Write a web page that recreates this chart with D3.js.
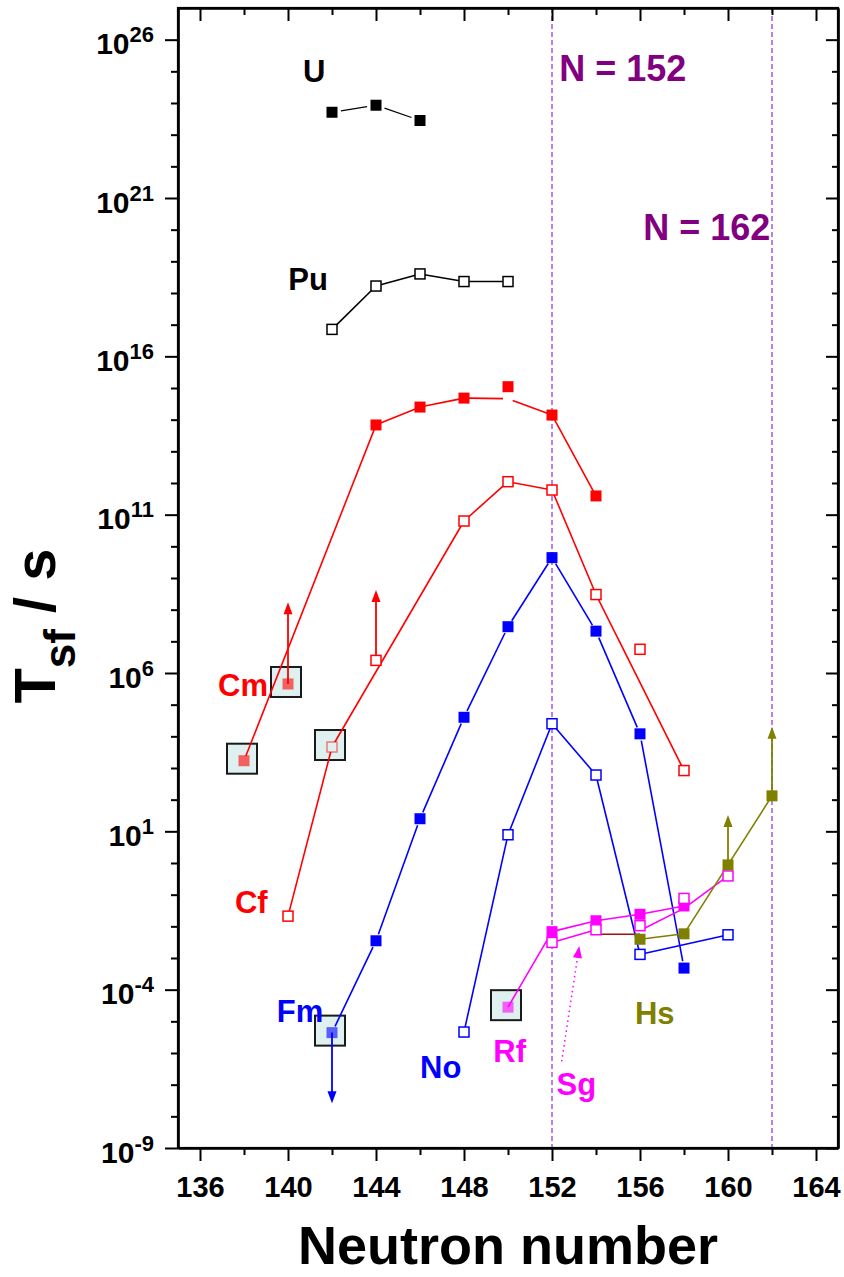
<!DOCTYPE html>
<html><head><meta charset="utf-8">
<script src="https://cdn.jsdelivr.net/npm/d3@7"></script>
<style>
body{margin:0;background:#fff}
svg{display:block}
text{font-family:"Liberation Sans",Arial,Helvetica,sans-serif;font-weight:bold}
</style>
</head><body>
<svg id="chart" width="844" height="1277"></svg>
<script>
// ---------------- data ----------------
const xMajorTicks = [136,140,144,148,152,156,160,164];
const xMinorTicks = [138,142,146,150,154,158,162];
const yMajorExps = [-9,-4,1,6,11,16,21,26];
const shellLines = [152,162];
const shellLabels = ["N = 152","N = 162"];
const shellLabelN = [152.33,156.15];
const shellLabelT = [4.9e24,4.7e19];

// U (filled black)
const U_N = [142,144,146];
const U_T = [5.1e23,8.5e23,2.8e23];
// Pu (open black)
const Pu_N = [142,144,146,148,150];
const Pu_T = [7.1e16,1.66e18,4.0e18,2.3e18,2.3e18];
// Cm (filled red)
const Cm_N = [138,140,144,146,148,150,152,154];
const Cm_T = [1.7e3,4.5e5,6.8e13,2.5e14,4.8e14,1.1e15,1.4e14,3.9e11];
const Cm_lineN = [138,144,146,148,150,152,154];
const Cm_lineT = [1.7e3,6.8e13,2.5e14,4.8e14,4.6e14,1.4e14,3.9e11];
// Cf (open red)
const Cf_N = [140,142,144,148,150,152,154,156,158];
const Cf_T = [2.1e-2,4.6e3,2.5e6,6.3e10,1.1e12,6.0e11,3.0e8,5.6e6,8.3e2];
const Cf_lineN = [140,142,148,150,152,154,158];
const Cf_lineT = [2.1e-2,4.6e3,6.3e10,1.1e12,6.0e11,3.0e8,8.3e2];
// Fm (filled blue)
const Fm_N = [142,144,146,148,150,152,154,156,158];
const Fm_T = [4.4e-6,3.5e-3,25,4.0e4,2.9e7,4.4e9,2.1e7,1.2e4,4.8e-4];
// No (open blue)
const No_N = [148,150,152,154,156,160];
const No_T = [4.6e-6,7.8,2.5e4,600,1.3e-3,5.4e-3];
// Rf (filled magenta)
const Rf_N = [150,152,154,156,158];
const Rf_T = [2.8e-5,6.8e-3,1.5e-2,2.4e-2,4.4e-2];
// Sg (open magenta)
const Sg_N = [152,154,156,158,160];
const Sg_T = [3.1e-3,7.8e-3,1.05e-2,7.6e-2,0.39];
const Sg_lineN = [152,154,155,156,158,160];
const Sg_lineT = [3.1e-3,7.8e-3,null,7.4e-3,3.7e-2,0.39];
// Hs (filled olive)
const Hs_N = [156,158,160,162];
const Hs_T = [3.9e-3,5.8e-3,0.87,132];
// short dark-red segment
const seg_N = [154,156];
const seg_T = [5.6e-3,5.6e-3];

// boxed (estimated) points: series, N
const boxedSeries = ["Cm","Cm","Cf","Fm","Rf"];
const boxedN = [138,140,142,142,150];

// limit arrows: series, N, tip value
const arrowSeries = ["Cm","Cf","Fm","Hs","Hs"];
const arrowN = [140,144,142,160,162];
const arrowTip = [1.7e8,4.2e8,2.6e-8,33,2.0e4];

// Sg dotted pointer
const sgPointerN = [152.44,153.24];
const sgPointerT = [5.4e-7,2.4e-3];

// element labels
const labelText = ["U","Pu","Cm","Cf","Fm","No","Rf","Sg","Hs"];
const labelN = [140.68,140.01,136.82,137.59,139.49,146.0,149.33,152.21,155.77];
const labelT = [4.6e24,1.26e18,1.9e5,2.7e-2,9.5e-6,1.6e-7,5.2e-7,4.8e-8,8.3e-6];
const labelColor = ["#000","#000","#ff0000","#ff0000","#0000ff","#0000ff","#ff00ff","#ff00ff","#808000"];

// ---------------- setup ----------------
const series = [
  {name:"U", color:"#000", filled:true, N:U_N, T:U_T, lineN:U_N, lineT:U_T, gap:9, lw:1.2},
  {name:"Pu", color:"#000", filled:false, N:Pu_N, T:Pu_T, lineN:Pu_N, lineT:Pu_T, gap:0, lw:1.6},
  {name:"Cm", color:"#ff0000", filled:true, N:Cm_N, T:Cm_T, lineN:Cm_lineN, lineT:Cm_lineT, gap:5, lw:1.6},
  {name:"Cf", color:"#ff0000", filled:false, N:Cf_N, T:Cf_T, lineN:Cf_lineN, lineT:Cf_lineT, gap:0, lw:1.6},
  {name:"Fm", color:"#0000ff", filled:true, N:Fm_N, T:Fm_T, lineN:Fm_N, lineT:Fm_T, gap:7, lw:1.6},
  {name:"No", color:"#0000ff", filled:false, N:No_N, T:No_T, lineN:No_N, lineT:No_T, gap:3, lw:1.6},
  {name:"Rf", color:"#ff00ff", filled:true, N:Rf_N, T:Rf_T, lineN:Rf_N, lineT:Rf_T, gap:0, lw:1.6},
  {name:"Sg", color:"#ff00ff", filled:false, N:Sg_N, T:Sg_T, lineN:Sg_lineN, lineT:Sg_lineT, gap:0, lw:1.6},
  {name:"Hs", color:"#808000", filled:true, N:Hs_N, T:Hs_T, lineN:Hs_N, lineT:Hs_T, gap:0, lw:1.6}
];
const byName = {}; series.forEach(s=>byName[s.name]=s);

const svg = d3.select("#chart");
const L=178, R=838, T0=8, B=1148;
const x = d3.scaleLinear().domain([135,165]).range([L,R]);
const y = d3.scaleLog().domain([1e-9,1e27]).range([B,T0]);

// reference lines
svg.append("g").selectAll("line").data(shellLines).join("line")
  .attr("x1",d=>x(d)).attr("x2",d=>x(d)).attr("y1",T0).attr("y2",B)
  .attr("stroke","#8a2be2").attr("stroke-width",1.2).attr("stroke-dasharray","5,3");

// boxes (behind)
const gBox = svg.append("g");
boxedSeries.forEach((sn,i)=>{
  const s = byName[sn]; const k = s.N.indexOf(boxedN[i]);
  const cx = x(s.N[k]), cy = y(s.T[k]);
  gBox.append("rect").attr("x",cx-17).attr("y",cy-17).attr("width",30).attr("height",30)
    .attr("fill","#dff0f0").attr("stroke","#1a1a1a").attr("stroke-width",2);
});

// lines
const gLines = svg.append("g");
function segs(Ns,Ts,color,gap,lw,g){
  for(let i=0;i<Ns.length-1;i++){
    if(Ts[i]==null||Ts[i+1]==null) continue;
    let x1=x(Ns[i]),y1=y(Ts[i]),x2=x(Ns[i+1]),y2=y(Ts[i+1]);
    const len=Math.hypot(x2-x1,y2-y1);
    if(gap>0 && len>2*gap){
      const ux=(x2-x1)/len, uy=(y2-y1)/len;
      x1+=ux*gap; y1+=uy*gap; x2-=ux*gap; y2-=uy*gap;
    }
    g.append("line").attr("x1",x1).attr("y1",y1).attr("x2",x2).attr("y2",y2)
      .attr("stroke",color).attr("stroke-width",lw).attr("stroke-linecap","butt");
  }
}
series.forEach(s=>segs(s.lineN,s.lineT,s.color,s.gap,s.lw,gLines));
segs(seg_N,seg_T,"#a01010",0,1.6,gLines);

// arrows
const gArr = svg.append("g");
function arrowHead(g,tx,ty,dx,dy,color){
  const len=Math.hypot(dx,dy), ux=dx/len, uy=dy/len;
  const hl=12, hw=4.5;
  const bx=tx-ux*hl, by=ty-uy*hl;
  g.append("path").attr("d",`M${tx},${ty}L${bx-uy*hw},${by+ux*hw}L${bx+uy*hw},${by-ux*hw}Z`).attr("fill",color);
}
arrowSeries.forEach((sn,i)=>{
  const s=byName[sn]; const k=s.N.indexOf(arrowN[i]);
  const px=x(s.N[k]), py=y(s.T[k]), ty=y(arrowTip[i]);
  const dir = ty<py?-1:1;
  gArr.append("line").attr("x1",px).attr("y1",py).attr("x2",px).attr("y2",ty-dir*10)
    .attr("stroke",s.color).attr("stroke-width",1.8);
  arrowHead(gArr,px,ty,0,dir,s.color);
});
{
  const x1=x(sgPointerN[0]),y1=y(sgPointerT[0]),x2=x(sgPointerN[1]),y2=y(sgPointerT[1]);
  const len=Math.hypot(x2-x1,y2-y1);
  gArr.append("line").attr("x1",x1).attr("y1",y1).attr("x2",x2-(x2-x1)/len*11).attr("y2",y2-(y2-y1)/len*11)
    .attr("stroke","#ff00ff").attr("stroke-width",1.5).attr("stroke-dasharray","1.5,3.5");
  arrowHead(gArr,x2,y2,x2-x1,y2-y1,"#ff00ff");
}

// markers
const gMk = svg.append("g");
series.forEach(s=>{
  s.N.forEach((n,i)=>{
    const cx=x(n), cy=y(s.T[i]);
    let boxed=false;
    boxedSeries.forEach((bs,j)=>{ if(bs===s.name && boxedN[j]===n) boxed=true; });
    if(s.filled){
      gMk.append("rect").attr("x",cx-5.5).attr("y",cy-5.5).attr("width",11).attr("height",11)
        .attr("fill",s.color).attr("fill-opacity",boxed?0.6:1);
    } else {
      gMk.append("rect").attr("x",cx-5).attr("y",cy-5).attr("width",10).attr("height",10)
        .attr("fill",boxed?"#dff0f0":"#fff").attr("stroke",s.color).attr("stroke-width",1.5)
        .attr("stroke-opacity",boxed?0.5:1);
    }
  });
});

// labels
const gLab = svg.append("g");
labelText.forEach((t,i)=>{
  gLab.append("text").attr("x",x(labelN[i])).attr("y",y(labelT[i]))
    .attr("font-size",31).attr("fill",labelColor[i]).text(t);
});
shellLabels.forEach((t,i)=>{
  gLab.append("text").attr("x",x(shellLabelN[i])).attr("y",y(shellLabelT[i]))
    .attr("font-size",36).attr("fill","#800080").text(t);
});

// ---------------- axes ----------------
const allExps = d3.range(-9,27);
const yMinor = allExps.filter(e=>!yMajorExps.includes(e)).map(e=>Math.pow(10,e));
const yMajor = yMajorExps.map(e=>Math.pow(10,e));

function styleAxis(g){
  g.selectAll("path.domain").attr("stroke","#000").attr("stroke-width",2.2);
  g.selectAll(".tick line").attr("stroke","#000").attr("stroke-width",2);
}
// left
const gLeftMin = svg.append("g").attr("transform",`translate(${L},0)`)
  .call(d3.axisLeft(y).tickValues(yMinor).tickSize(7).tickSizeOuter(0).tickFormat(""));
styleAxis(gLeftMin);
const gLeft = svg.append("g").attr("transform",`translate(${L},0)`)
  .call(d3.axisLeft(y).tickValues(yMajor).tickSize(13).tickSizeOuter(0).tickPadding(11));
styleAxis(gLeft);
gLeft.selectAll(".tick text").each(function(d){
  const e = Math.round(Math.log10(d));
  const t = d3.select(this).text(null).attr("font-size",30).attr("fill","#000").attr("dy","0.47em")
    .attr("font-family",null);
  t.append("tspan").text("10");
  t.append("tspan").attr("font-size",22).attr("dy",-12).text(String(e));
});
// right
const gRightMin = svg.append("g").attr("transform",`translate(${R},0)`)
  .call(d3.axisRight(y).tickValues(yMinor).tickSize(-6).tickSizeOuter(0).tickFormat(""));
styleAxis(gRightMin);
const gRight = svg.append("g").attr("transform",`translate(${R},0)`)
  .call(d3.axisRight(y).tickValues(yMajor).tickSize(-12).tickSizeOuter(0).tickFormat(""));
styleAxis(gRight);
// bottom
const gBotMin = svg.append("g").attr("transform",`translate(0,${B})`)
  .call(d3.axisBottom(x).tickValues(xMinorTicks).tickSize(7).tickSizeOuter(0).tickFormat(""));
styleAxis(gBotMin);
const gBot = svg.append("g").attr("transform",`translate(0,${B})`)
  .call(d3.axisBottom(x).tickValues(xMajorTicks).tickSize(13).tickSizeOuter(0).tickPadding(15).tickFormat(d3.format("d")));
styleAxis(gBot);
gBot.selectAll(".tick text").attr("font-size",29).attr("fill","#000").attr("font-family",null);
// top
const gTopMin = svg.append("g").attr("transform",`translate(0,${T0})`)
  .call(d3.axisTop(x).tickValues(xMinorTicks).tickSize(-7).tickSizeOuter(0).tickFormat(""));
styleAxis(gTopMin);
const gTop = svg.append("g").attr("transform",`translate(0,${T0})`)
  .call(d3.axisTop(x).tickValues(xMajorTicks).tickSize(-13).tickSizeOuter(0).tickFormat(""));
styleAxis(gTop);
// frame
svg.append("rect").attr("x",L).attr("y",T0).attr("width",R-L).attr("height",B-T0)
  .attr("fill","none").attr("stroke","#000").attr("stroke-width",2.2);

// titles
svg.append("text").attr("x",508).attr("y",1264).attr("text-anchor","middle")
  .attr("font-size",54).attr("fill","#000").text("Neutron number");
const yt = svg.append("text").attr("transform","translate(55,626) rotate(-90)")
  .attr("text-anchor","middle").attr("font-size",58).attr("fill","#000");
yt.append("tspan").text("T");
yt.append("tspan").attr("font-size",44).attr("dy",20).text("sf");
yt.append("tspan").attr("dy",-20).text(" / s");
</script>
</body></html>
